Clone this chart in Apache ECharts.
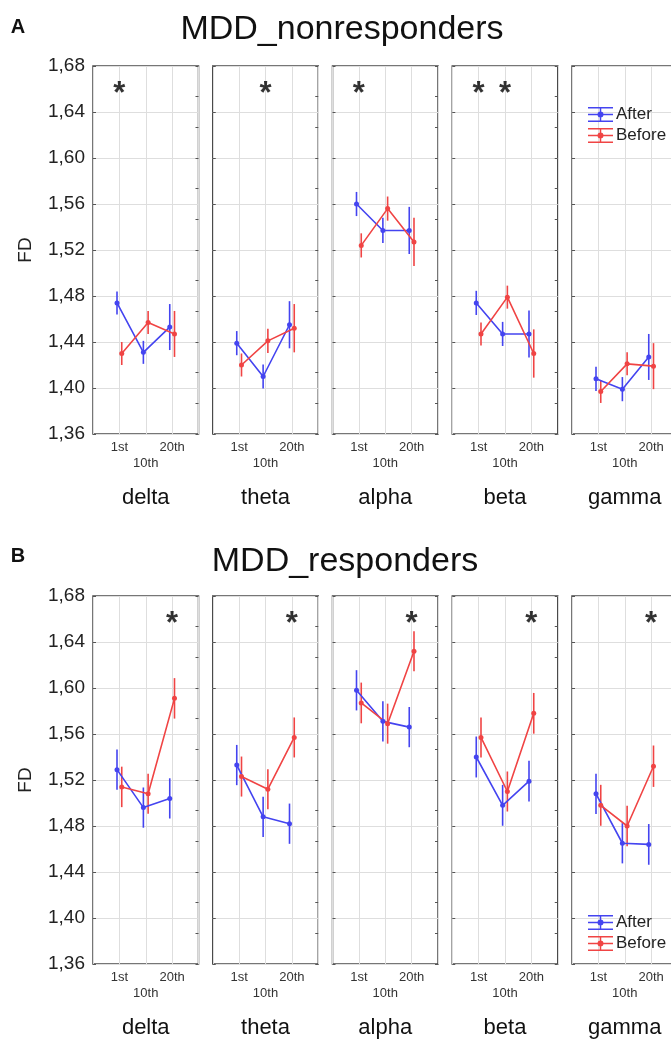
<!DOCTYPE html>
<html>
<head>
<meta charset="utf-8">
<script src="https://cdn.jsdelivr.net/npm/echarts@6/dist/echarts.min.js"></script>
<style>
  html, body { margin: 0; padding: 0; background: #fff; overflow: hidden; width: 671px; height: 1040px; }
  #chart { width: 690px; height: 1040px; }
</style>
</head>
<body>
<div id="chart"></div>
<script>
// ---------- data ----------
const bands = ['delta', 'theta', 'alpha', 'beta', 'gamma'];
const sessions = ['1st', '10th', '20th'];
const groupTitles = ['MDD_nonresponders', 'MDD_responders'];
const panelLetters = ['A', 'B'];
const seriesNames = ['After', 'Before'];
const yTickLabels = ['1,36', '1,40', '1,44', '1,48', '1,52', '1,56', '1,60', '1,64', '1,68'];

// MDD non-responders (mean FD, per band, per session)
const nonrespAfter = [
  [1.474, 1.431, 1.453],
  [1.439, 1.410, 1.455],
  [1.560, 1.537, 1.537],
  [1.474, 1.447, 1.447],
  [1.408, 1.399, 1.427]
];
const nonrespAfterErr = [
  [0.010, 0.010, 0.020],
  [0.0105, 0.0105, 0.0205],
  [0.0105, 0.011, 0.0205],
  [0.0105, 0.0105, 0.0205],
  [0.0105, 0.0105, 0.020]
];
const nonrespBefore = [
  [1.430, 1.457, 1.447],
  [1.420, 1.441, 1.452],
  [1.524, 1.556, 1.527],
  [1.447, 1.479, 1.430],
  [1.397, 1.421, 1.419]
];
const nonrespBeforeErr = [
  [0.010, 0.010, 0.020],
  [0.010, 0.0105, 0.021],
  [0.0105, 0.0105, 0.021],
  [0.010, 0.010, 0.021],
  [0.010, 0.010, 0.020]
];
// MDD responders
const respAfter = [
  [1.529, 1.496, 1.504],
  [1.533, 1.488, 1.482],
  [1.598, 1.571, 1.566],
  [1.540, 1.498, 1.519],
  [1.508, 1.465, 1.464]
];
const respAfterErr = [
  [0.0175, 0.0175, 0.0175],
  [0.0175, 0.0175, 0.0175],
  [0.0175, 0.0175, 0.0175],
  [0.0178, 0.0178, 0.0177],
  [0.0175, 0.0175, 0.0177]
];
const respBefore = [
  [1.514, 1.508, 1.591],
  [1.523, 1.512, 1.557],
  [1.587, 1.569, 1.632],
  [1.557, 1.510, 1.578],
  [1.498, 1.480, 1.532]
];
const respBeforeErr = [
  [0.0176, 0.0174, 0.0176],
  [0.0174, 0.0174, 0.0174],
  [0.0177, 0.0174, 0.0174],
  [0.0174, 0.0174, 0.0177],
  [0.0178, 0.0177, 0.018]
];
// significance stars: session indices per band
const nonrespStars = [[0], [1], [0], [0, 1], []];
const respStars = [[2], [2], [2], [2], [2]];

// ---------- layout / style ----------
const groups = [
  { after: nonrespAfter, afterErr: nonrespAfterErr, before: nonrespBefore, beforeErr: nonrespBeforeErr, stars: nonrespStars },
  { after: respAfter, afterErr: respAfterErr, before: respBefore, beforeErr: respBeforeErr, stars: respStars }
];
const colors = ['#4444f0', '#f04444'];
const offsets = [-0.09, 0.09];
const gridTops = [66, 596];
const gridHeights = [368, 369];
const gridLeft0 = 93, gridPitch = 119.75, gridWidth = 105.5;
const starLevel = 1.662;
const FONT = '"Liberation Sans", Arial, sans-serif';

const grid = [], xAxis = [], yAxis = [], series = [];

groups.forEach((g, p) => {
  bands.forEach((band, b) => {
    const idx = p * 5 + b;
    grid.push({
      left: gridLeft0 + b * gridPitch, width: gridWidth,
      top: gridTops[p], height: gridHeights[p],
      show: true, borderColor: '#4a4a4a', borderWidth: 1.5, backgroundColor: 'transparent'
    });
    xAxis.push({
      gridIndex: idx, type: 'value', min: 0, max: sessions.length + 1, interval: 1,
      name: band, nameLocation: 'middle', nameGap: 53,
      nameTextStyle: { fontSize: 22, color: '#111', fontFamily: FONT },
      axisLine: { show: false }, axisTick: { show: false },
      splitLine: { show: true, lineStyle: { color: '#dedede', width: 1 } },
      axisLabel: {
        fontSize: 13, lineHeight: 16, margin: 5, color: '#333', fontFamily: FONT,
        showMinLabel: true, showMaxLabel: true,
        formatter: v => {
          const i = Math.round(v) - 1;
          if (i < 0 || i >= sessions.length) return '';
          return i === 1 ? '\n' + sessions[i] : sessions[i];
        }
      }
    });
    yAxis.push({
      gridIndex: idx, type: 'value', min: 1.36, max: 1.68, interval: 0.04,
      name: b === 0 ? 'FD' : '', nameLocation: 'middle', nameGap: 58, nameRotate: 90,
      nameTextStyle: { fontSize: 19, color: '#222', fontFamily: FONT },
      axisLine: { show: false },
      axisTick: { show: true, inside: true, length: 3, lineStyle: { color: '#555' } },
      splitLine: { show: true, lineStyle: { color: '#dedede', width: 1 } },
      axisLabel: {
        show: b === 0, fontSize: 19, color: '#222', margin: 8, fontFamily: FONT,
        formatter: v => yTickLabels[Math.round((v - 1.36) / 0.04)] || ''
      }
    });
    yAxis.push({
      gridIndex: idx, type: 'value', position: 'right', min: 0, max: 12, interval: 1,
      axisLine: { show: false }, axisLabel: { show: false }, splitLine: { show: false },
      axisTick: { show: true, inside: true, length: 3, lineStyle: { color: '#555' } }
    });

    const sets = [[g.after[b], g.afterErr[b]], [g.before[b], g.beforeErr[b]]];
    sets.forEach(([vals, errs], s) => {
      const color = colors[s];
      series.push({
        type: 'custom', name: seriesNames[s] + ' SE',
        xAxisIndex: idx, yAxisIndex: idx * 2,
        data: vals.map((v, i) => [i + 1 + offsets[s], v - errs[i], v + errs[i]]),
        encode: { x: 0, y: [1, 2] },
        renderItem: (params, api) => {
          const a = api.coord([api.value(0), api.value(1)]);
          const c = api.coord([api.value(0), api.value(2)]);
          return { type: 'line', shape: { x1: a[0], y1: a[1], x2: c[0], y2: c[1] },
                   style: { stroke: color, lineWidth: 1.6 } };
        },
        z: 2, silent: true
      });
      series.push({
        type: 'line', name: seriesNames[s],
        xAxisIndex: idx, yAxisIndex: idx * 2,
        data: vals.map((v, i) => [i + 1 + offsets[s], v]),
        symbol: 'circle', symbolSize: 5,
        lineStyle: { width: 1.6, color: color },
        itemStyle: { color: color },
        z: 3, silent: true
      });
    });

    if (g.stars[b].length) {
      series.push({
        type: 'scatter', name: 'sig',
        xAxisIndex: idx, yAxisIndex: idx * 2,
        data: g.stars[b].map(i => [i + 1, starLevel]),
        symbol: 'circle', symbolSize: 2, itemStyle: { color: 'rgba(0,0,0,0)' },
        label: { show: true, position: 'inside', formatter: '*', fontSize: 31, fontWeight: 'bold',
                 color: '#000', fontFamily: FONT, offset: [0, 8] },
        z: 4, silent: true
      });
    }
  });
});

const legendIcon = 'path://M0,0H25V1.5H0Z M0,6.75H25V8.25H0Z M0,13.5H25V15H0Z M11.75,0H13.25V15H11.75Z M9.5,7.5A3,3 0 1 1 15.5,7.5A3,3 0 1 1 9.5,7.5Z';
const legendBase = {
  data: seriesNames, orient: 'vertical', left: 583, itemWidth: 25, itemHeight: 15,
  icon: legendIcon, selectedMode: false,
  textStyle: { fontSize: 17, color: '#222', fontFamily: FONT, padding: [0, 0, 0, -2] }
};

const graphic = [];
groupTitles.forEach((t, p) => {
  graphic.push({ type: 'text', style: { text: t, x: [342, 345][p], y: [30, 562][p], align: 'center', verticalAlign: 'middle',
    fontSize: 34, fontFamily: FONT, fill: '#111' } });
  graphic.push({ type: 'text', style: { text: panelLetters[p], x: 18, y: [27, 556][p], align: 'center', verticalAlign: 'middle',
    fontSize: 20, fontWeight: 'bold', fontFamily: FONT, fill: '#111' } });
});

const chart = echarts.init(document.getElementById('chart'), null, { renderer: 'canvas' });
chart.setOption({
  animation: false,
  backgroundColor: '#fff',
  textStyle: { fontFamily: FONT },
  grid, xAxis, yAxis, series,
  legend: [Object.assign({ top: 101, itemGap: 4 }, legendBase), Object.assign({ top: 909, itemGap: 4 }, legendBase)],
  graphic
});
</script>
</body>
</html>
